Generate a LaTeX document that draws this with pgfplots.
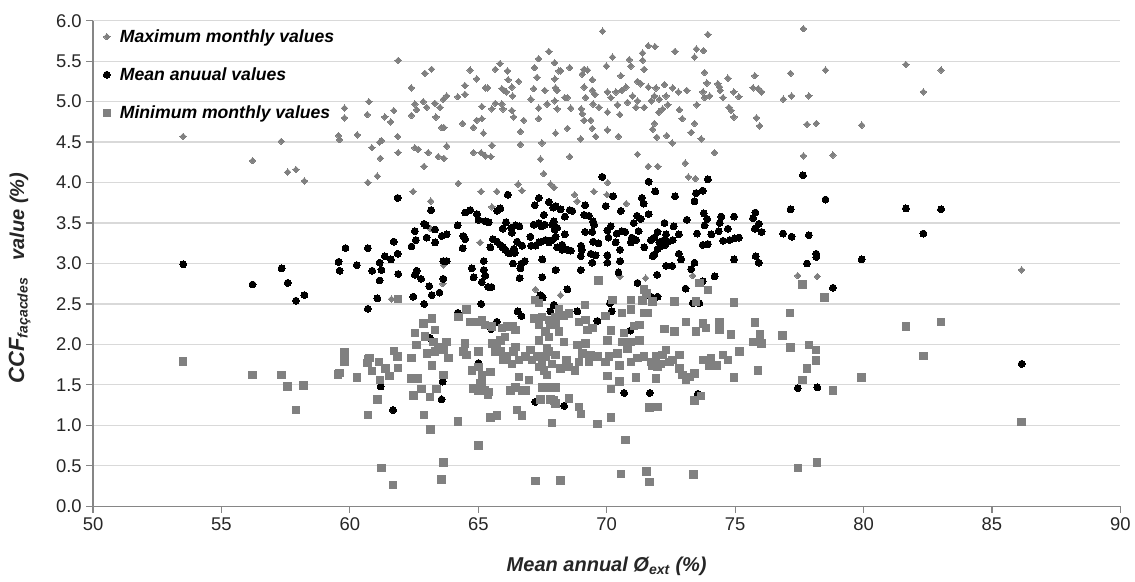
\documentclass[border=0pt]{standalone}
\usepackage{fontspec}
\setmainfont{Liberation Sans}
\usepackage{pgfplots}
\usepackage{pgfplotstable}
\pgfplotsset{compat=1.18}
\usetikzlibrary{calc}
\definecolor{mgray}{RGB}{128,128,128}
\definecolor{gridgray}{RGB}{217,217,217}
\definecolor{axgray}{RGB}{134,134,134}
\begin{document}
\pgfplotstableread{
x y
53.51 4.57
56.21 4.27
57.33 4.51
57.58 4.13
57.90 4.16
58.23 4.02
59.56 4.58
59.60 4.53
59.79 4.92
59.79 4.80
60.29 4.59
60.68 4.84
60.74 5.00
61.36 4.81
61.59 4.75
61.71 4.89
61.86 4.57
60.86 4.43
61.16 4.50
61.19 4.30
61.88 4.37
60.70 4.00
61.07 4.08
62.46 3.89
63.15 3.77
61.88 5.51
62.39 5.17
62.92 5.35
63.18 5.40
64.68 5.39
65.66 5.40
65.85 5.47
66.14 5.38
67.35 5.53
67.75 5.62
62.40 4.83
62.53 4.97
62.60 4.90
62.86 5.00
62.99 4.93
63.31 4.98
63.51 4.93
63.35 4.81
63.57 4.68
63.66 4.68
63.64 5.03
63.77 5.07
64.20 5.06
64.48 5.09
64.48 5.20
64.39 4.73
62.53 4.43
62.66 4.41
63.05 4.37
63.44 4.32
63.66 4.30
63.77 4.45
62.89 4.20
64.22 3.99
64.81 4.37
65.11 4.37
65.27 4.33
65.49 4.32
65.53 4.46
64.81 4.68
64.94 4.77
65.14 4.79
65.20 4.61
64.94 5.28
65.27 5.17
65.37 5.17
65.14 4.94
65.53 4.91
65.66 4.98
65.92 4.97
65.96 4.91
66.31 4.89
65.92 5.16
66.09 5.12
66.31 5.18
66.57 5.25
66.38 4.81
66.77 4.77
66.64 4.63
66.64 4.47
67.05 5.03
67.16 5.16
67.35 4.92
67.35 4.79
67.48 4.49
67.55 4.11
66.55 3.98
66.70 3.90
65.11 3.89
65.72 3.89
67.42 4.29
67.68 4.97
65.53 3.70
63.15 3.43
65.07 3.26
67.19 5.42
66.16 5.27
66.34 5.07
66.00 5.14
67.29 5.30
67.59 5.14
61.23 4.52
67.97 5.48
68.14 5.38
68.21 5.38
67.98 5.28
68.01 5.17
68.07 5.14
68.37 5.05
68.47 5.05
67.98 5.01
68.07 4.91
68.60 4.92
68.47 4.67
68.01 4.61
68.56 5.42
69.05 5.34
69.12 5.40
69.25 5.39
69.12 5.18
69.18 5.05
69.44 5.27
69.44 5.14
69.54 5.09
69.47 4.97
69.70 4.93
69.01 4.91
69.05 4.85
69.12 4.77
69.38 4.77
69.44 4.67
69.57 4.57
68.99 4.54
68.56 4.32
69.99 5.44
70.23 5.55
69.84 5.87
70.03 5.12
70.16 5.05
70.36 5.12
70.42 4.96
70.55 5.32
70.51 4.84
70.03 4.87
70.03 4.65
70.46 4.57
70.59 5.14
70.75 5.18
70.88 5.52
70.94 5.44
70.81 4.99
71.01 5.07
71.20 5.01
71.14 4.93
71.46 4.93
71.40 5.51
71.40 5.60
71.62 5.69
71.88 5.68
71.46 5.40
71.20 5.25
71.33 5.22
71.62 5.18
71.74 5.01
71.86 5.07
71.92 5.17
72.05 5.03
72.25 5.21
72.31 5.07
72.38 4.96
72.18 4.91
72.03 4.87
71.86 4.73
71.79 4.66
71.95 4.56
72.34 4.58
72.55 4.49
71.20 4.35
71.62 4.20
71.99 4.20
72.66 5.62
72.57 5.17
72.79 5.12
73.12 5.14
72.83 4.90
72.94 4.79
73.42 4.73
73.29 4.62
73.68 4.54
73.42 5.55
73.49 5.65
73.77 5.63
73.94 5.83
73.81 5.36
73.90 5.23
73.75 5.12
73.81 5.05
74.01 5.07
73.51 4.96
74.33 5.22
74.40 5.18
74.42 5.14
74.72 5.29
74.53 5.05
74.95 5.12
75.15 5.06
74.76 4.93
74.85 4.89
74.95 4.81
75.77 5.32
75.70 5.17
75.90 5.16
76.03 5.12
75.83 4.80
75.96 4.70
74.20 4.37
73.06 4.24
77.66 5.90
77.16 5.35
78.52 5.39
76.88 5.03
77.20 5.07
77.87 5.07
77.80 4.72
78.16 4.73
79.93 4.71
77.66 4.33
78.81 4.34
81.65 5.46
83.02 5.39
82.33 5.12
73.18 4.07
73.45 4.05
70.04 4.00
69.50 3.89
68.75 3.85
68.85 3.77
67.82 3.98
70.76 3.74
70.01 3.85
67.95 3.94
86.16 2.92
77.44 2.85
78.20 2.84
70.52 2.84
71.52 2.82
73.35 2.85
68.20 2.61
71.59 2.63
63.64 2.98
63.62 2.75
67.23 2.68
61.62 2.56
61.23 2.93
}\maxdata
\pgfplotstableread{
x y
53.51 2.99
56.21 2.74
57.34 2.94
57.58 2.76
57.90 2.54
58.23 2.61
59.56 3.02
59.60 2.91
59.83 3.19
60.27 2.98
60.70 3.19
60.70 2.44
60.87 2.91
61.16 3.01
61.16 2.79
61.07 2.57
62.89 2.50
61.86 3.81
63.16 3.66
61.71 3.27
61.36 3.09
61.60 3.05
61.86 3.12
61.23 2.92
61.88 2.87
62.40 3.21
62.57 3.29
62.53 3.40
62.89 3.49
62.96 3.47
62.99 3.32
63.32 3.42
63.32 3.26
63.58 3.34
63.77 3.36
62.60 2.91
62.53 2.86
62.77 2.81
63.64 3.03
63.77 3.03
63.64 2.81
63.09 2.72
63.19 2.61
62.47 2.59
63.49 2.64
64.20 3.47
64.42 3.34
64.49 3.30
64.39 3.19
64.49 3.63
64.69 3.66
64.95 3.61
65.01 3.54
65.27 3.52
65.40 3.51
65.73 3.65
65.86 3.68
66.15 3.85
66.08 3.51
65.95 3.43
66.28 3.44
66.31 3.38
66.45 3.47
66.60 3.46
65.57 3.30
65.73 3.27
65.47 3.20
65.86 3.23
65.95 3.20
66.05 3.17
66.16 3.13
66.38 3.18
66.51 3.27
66.42 3.13
66.25 3.13
64.75 2.94
65.21 3.03
65.21 2.92
65.27 2.85
64.82 2.83
65.14 2.77
65.38 2.71
65.51 2.71
66.35 3.00
66.68 3.00
66.81 3.03
66.64 2.94
66.61 2.82
67.49 2.83
67.49 3.05
67.42 2.61
67.51 2.58
68.01 2.92
68.47 2.68
66.71 3.22
67.03 3.33
67.06 3.22
67.23 3.22
67.36 3.26
67.46 3.27
67.62 3.29
67.75 3.26
67.88 3.29
68.01 3.33
68.07 3.20
68.27 3.23
68.37 3.36
68.47 3.17
68.60 3.16
68.27 3.17
69.00 3.22
67.16 3.48
67.36 3.50
67.46 3.46
67.59 3.48
67.88 3.48
67.94 3.52
68.07 3.44
67.98 3.42
67.20 3.72
67.36 3.81
67.55 3.60
67.75 3.76
68.01 3.71
68.21 3.67
68.56 3.66
67.92 3.69
68.37 3.58
64.20 2.39
65.11 2.50
65.72 2.28
65.50 2.19
66.53 2.41
66.68 2.35
67.81 2.41
63.12 2.08
65.01 1.77
61.20 1.48
61.68 1.19
63.61 1.54
63.57 1.32
67.22 1.29
67.94 2.49
68.96 2.28
68.34 1.24
68.86 2.41
69.64 2.29
70.20 2.41
70.13 2.51
73.35 2.51
73.61 2.51
70.92 2.17
70.68 1.40
71.68 1.40
73.55 1.39
69.83 4.07
71.63 4.01
71.89 3.89
73.94 4.04
73.74 3.90
73.48 3.87
73.42 3.77
72.66 3.83
71.37 3.81
71.44 3.74
70.25 3.83
69.96 3.71
70.55 3.65
69.16 3.72
69.12 3.60
69.31 3.59
69.47 3.52
69.51 3.48
68.66 3.65
71.18 3.59
71.33 3.55
71.63 3.61
71.05 3.50
72.25 3.50
72.61 3.46
73.12 3.54
73.78 3.62
73.91 3.55
74.46 3.58
74.40 3.50
74.96 3.58
75.79 3.63
75.70 3.56
75.92 3.49
75.77 3.43
76.03 3.39
73.81 3.47
74.07 3.36
74.36 3.40
74.72 3.43
73.52 3.37
74.53 3.28
74.79 3.29
74.98 3.31
75.15 3.32
73.74 3.23
73.94 3.24
69.16 3.39
69.44 3.39
70.03 3.41
70.16 3.46
70.39 3.37
70.59 3.40
70.72 3.39
70.98 3.32
71.14 3.29
71.24 3.40
69.47 3.27
69.68 3.25
70.07 3.32
70.35 3.26
70.52 3.17
70.94 3.26
71.46 3.20
71.72 3.29
71.85 3.32
71.98 3.39
72.05 3.26
72.18 3.28
72.31 3.36
72.38 3.27
72.57 3.29
72.81 3.36
71.98 3.18
71.85 3.11
71.79 3.09
72.15 3.22
72.28 3.23
69.03 3.17
68.99 3.09
69.38 3.12
69.57 3.10
70.03 3.10
69.44 3.01
70.03 3.01
70.52 3.03
70.46 2.89
68.99 2.92
72.31 2.97
72.55 2.97
72.81 3.12
72.90 3.05
73.29 2.93
73.42 3.01
74.20 2.84
74.96 3.05
75.80 3.09
75.92 3.01
71.20 2.76
71.96 2.86
73.07 2.69
73.74 2.78
71.72 2.59
71.98 2.59
78.16 3.12
78.16 3.08
77.80 3.00
79.93 3.05
78.81 2.70
86.16 1.76
77.44 1.46
78.20 1.47
77.64 4.09
78.52 3.79
77.16 3.67
81.65 3.68
83.02 3.67
82.33 3.37
76.87 3.37
77.20 3.33
77.87 3.35
}\meandata
\pgfplotstableread{
x y
53.51 1.79
56.21 1.62
57.34 1.62
57.58 1.48
58.20 1.49
57.90 1.19
59.53 1.63
59.60 1.65
59.79 1.90
59.79 1.79
60.27 1.59
60.70 1.82
60.77 1.83
60.68 1.77
60.87 1.67
61.13 1.78
61.38 1.70
61.55 1.61
61.17 1.56
61.88 1.71
61.85 1.85
61.71 1.92
61.07 1.32
60.70 1.13
61.23 0.47
61.68 0.26
61.88 2.56
63.64 0.54
63.57 0.33
65.01 0.75
67.22 0.31
63.14 0.95
62.89 1.13
64.22 1.05
62.40 1.83
62.40 1.58
62.66 1.58
62.79 1.45
62.47 1.37
63.12 1.35
63.38 1.45
63.64 1.62
62.53 2.14
62.60 1.99
62.86 2.26
63.19 2.32
63.32 2.18
62.93 2.10
63.25 2.03
63.45 1.97
63.77 2.03
63.64 1.93
63.32 1.91
63.00 1.89
63.84 1.83
63.19 1.74
64.23 2.34
64.55 2.43
64.69 2.28
65.01 2.28
65.14 2.30
65.27 2.24
65.53 2.22
64.49 2.01
64.42 1.91
64.55 1.87
65.01 1.91
64.75 1.68
65.01 1.72
65.14 1.62
65.47 1.66
65.14 1.52
65.27 1.43
64.82 1.45
65.01 1.43
65.40 1.41
66.51 1.19
66.71 1.12
65.47 1.10
65.73 1.12
66.25 1.43
66.45 1.47
66.71 1.43
66.84 1.43
66.58 1.60
66.97 1.56
67.49 1.47
65.92 2.20
66.12 2.22
66.35 2.23
66.45 2.18
66.05 2.09
65.86 2.05
65.66 1.91
65.86 1.91
66.12 1.85
66.38 1.91
66.45 1.97
66.58 1.81
66.31 1.76
65.99 1.81
65.73 1.97
65.53 2.01
66.84 1.85
67.10 1.81
67.29 1.85
67.49 1.78
67.62 1.85
67.36 1.72
67.55 1.68
67.03 1.93
67.68 1.95
67.36 2.05
67.62 2.16
67.81 2.24
67.16 2.32
67.36 2.51
67.49 2.34
67.75 2.30
68.01 2.26
68.14 2.16
67.75 2.09
67.36 2.24
64.81 1.46
65.07 1.52
65.37 1.38
67.42 1.32
67.81 1.32
67.87 1.03
67.20 2.55
68.14 2.43
68.34 2.36
68.53 2.38
68.01 2.34
68.34 2.03
68.44 1.81
68.21 1.70
68.53 1.72
68.77 1.68
67.75 1.91
68.01 1.87
67.88 1.76
67.68 1.62
67.75 1.47
68.01 1.47
67.94 1.31
68.01 1.27
68.53 1.33
68.92 1.23
68.92 2.28
68.86 1.99
69.16 2.49
70.22 2.55
70.94 2.55
71.40 2.54
71.79 2.53
72.64 2.53
73.48 2.53
74.96 2.52
73.94 2.67
69.18 2.30
69.96 2.35
70.59 2.39
70.94 2.43
71.46 2.39
71.59 2.39
69.25 2.18
69.44 2.20
70.16 2.17
70.68 2.14
71.07 2.23
71.27 2.24
72.25 2.19
72.64 2.16
73.09 2.28
73.74 2.26
73.87 2.20
73.48 2.16
74.40 2.28
74.40 2.18
74.85 2.12
75.77 2.27
75.96 2.12
75.70 2.03
76.03 2.01
69.18 2.01
70.03 2.05
70.62 2.03
70.94 2.03
71.27 2.05
70.81 1.95
69.05 1.89
69.38 1.87
69.64 1.85
70.10 1.85
70.42 1.89
68.92 1.78
69.31 1.78
69.96 1.78
70.49 1.74
70.94 1.78
71.20 1.83
71.46 1.85
71.72 1.78
71.92 1.85
72.18 1.87
72.31 1.93
72.12 1.76
72.44 1.78
71.98 1.72
71.79 1.74
72.83 1.87
72.57 1.81
72.83 1.70
72.96 1.62
73.22 1.60
73.42 1.64
73.09 1.56
73.74 1.81
74.07 1.83
74.27 1.74
74.53 1.87
74.72 1.81
73.98 1.74
75.18 1.91
75.90 1.68
74.96 1.59
70.03 1.61
70.49 1.54
71.14 1.59
71.92 1.58
70.16 1.45
73.42 1.31
73.68 1.36
71.66 1.22
71.98 1.23
68.99 1.14
70.16 1.10
69.64 1.02
86.16 1.04
81.65 2.22
83.02 2.28
82.33 1.86
79.93 1.59
78.81 1.43
78.49 2.58
77.13 2.39
77.63 2.74
76.84 2.11
77.16 1.96
77.87 1.99
78.16 1.93
78.16 1.80
77.80 1.70
77.63 1.56
77.44 0.47
78.19 0.54
68.20 0.32
70.55 0.40
71.55 0.43
71.67 0.30
73.38 0.39
70.73 0.82
69.68 2.79
71.45 2.68
71.55 2.63
73.61 2.76
}\mindata
\begin{tikzpicture}
\begin{axis}[name=ax, scale only axis, width=770pt, height=364pt,
  xmin=50, xmax=90, ymin=0, ymax=6,
  xtick={50,55,...,90}, ytick={0,0.5,...,6},
  axis x line*=bottom, axis y line*=left,
  axis line style={axgray, line width=0.9pt},
  every tick/.style={axgray, line width=0.9pt},
  major tick length=5pt, tick align=outside,
  ymajorgrids, grid style={gridgray, line width=0.9pt},
  y tick label style={/pgf/number format/fixed, /pgf/number format/fixed zerofill, /pgf/number format/precision=1},
  /pgf/number format/assume math mode=true,
  tick label style={font=\fontsize{13.8}{15}\selectfont, text=black!85},
  xlabel={\bfseries\itshape Mean annual Ø\textsubscript{ext} (\%)},
  ylabel={\bfseries\itshape {\fontsize{16.5}{17}\selectfont CCF}\textsubscript{façacdes}\ \ \ value (\%)},
  label style={font=\fontsize{15}{16}\selectfont, text=black!85},
  xlabel style={at={(axis description cs:0.5,-0.1236)}, anchor=center},
  ylabel style={at={(axis description cs:-0.0714,0.47)}, anchor=center},
  legend style={at={(axis cs:50.38,5.93)}, anchor=north west, draw=none, fill=none,
    font=\fontsize{13.2}{15}\selectfont\bfseries\itshape, row sep=13.5pt, inner sep=0pt,
    /tikz/every odd column/.append style={column sep=5pt}},
  legend cell align=left,
]
\addplot[only marks, mark=square*, mark size=1.7pt, mark options={rotate=45, fill=mgray, draw=mgray, line width=0pt}] table {\maxdata};
\addlegendentry{Maximum monthly values}
\addplot[only marks, mark=*, mark size=2.6pt, mark options={fill=black, draw=black, line width=0pt}] table {\meandata};
\addlegendentry{Mean anuual values}
\addplot[only marks, mark=square*, mark size=2.8pt, mark options={fill=mgray, draw=mgray, line width=0pt}] table {\mindata};
\addlegendentry{Minimum monthly values}
\end{axis}
\pgfresetboundingbox
\path[use as bounding box] ($(ax.south west)+(-69.75pt,-56pt)$) rectangle ($(ax.north east)+(11pt,15.5pt)$);
\end{tikzpicture}
\end{document}
